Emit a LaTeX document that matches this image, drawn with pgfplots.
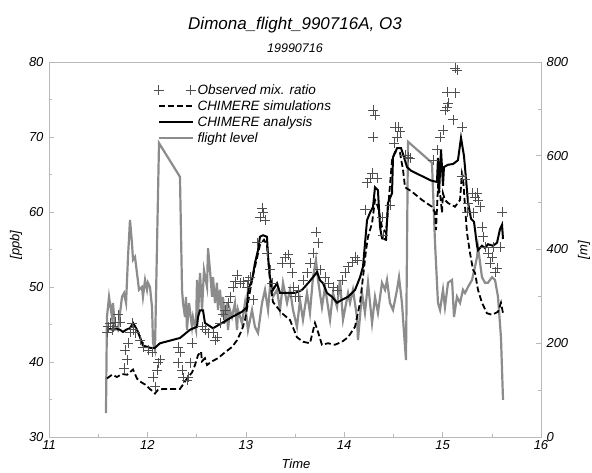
\documentclass[border=0pt]{standalone}
\usepackage{pgfplots}
\pgfplotsset{compat=1.18}
\usepackage{fontspec}
\setmainfont{Liberation Sans}
\definecolor{axgray}{RGB}{185,185,185}
\definecolor{flgray}{RGB}{140,140,140}
\definecolor{obsgray}{RGB}{80,80,80}
\pgfplotsset{
  linelegend/.style={legend image code/.code={\draw[#1] (0pt,0pt) -- (34pt,0pt);}},
  pluslegend/.style={legend image code/.code={\draw[#1] plot[only marks] coordinates {(0pt,0pt) (32pt,0pt)};}},
}
\begin{document}
\begin{tikzpicture}
\useasboundingbox (-49pt,-35pt) rectangle (543pt,437pt);
\pgfplotsset{
  every axis/.append style={
    scale only axis, width=492pt, height=375pt,
    xmin=11, xmax=16,
    tick align=inside,
    major tick length=5pt, minor tick length=3pt,
    every tick/.style={axgray, line width=0.6pt},
    axis line style={axgray, line width=0.8pt},
    ticklabel style={font=\fontsize{13}{15}\selectfont\itshape},
    /pgf/number format/assume math mode=true,
  }
}
% flight level (right axis)
\begin{axis}[
  axis y line*=right, axis x line=none,
  ymin=0, ymax=800, ytick={0,200,...,800}, minor ytick={100,300,500,700},
  yticklabel style={xshift=2pt},
]
\addplot[flgray, line width=2.2pt] table {
t m
11.579 51
11.589 256
11.610 299
11.640 256
11.650 286
11.671 235
11.701 228
11.742 299
11.762 307
11.783 286
11.803 384
11.823 463
11.843 414
11.854 378
11.874 384
11.894 350
11.915 314
11.945 320
11.955 299
11.976 335
11.996 314
12.006 329
12.026 320
12.047 277
12.057 201
12.077 186
12.118 627
12.331 555
12.352 314
12.362 286
12.382 256
12.392 299
12.402 228
12.423 286
12.453 235
12.463 256
12.494 228
12.504 335
12.514 256
12.535 350
12.555 271
12.575 356
12.606 320
12.616 403
12.636 356
12.657 299
12.667 341
12.687 286
12.707 329
12.717 271
12.738 314
12.758 256
12.768 299
12.789 243
12.809 286
12.819 228
12.839 271
12.860 256
12.890 286
12.911 228
12.921 271
12.961 243
12.992 286
13.022 228
13.063 271
13.093 235
13.124 222
13.165 286
13.195 314
13.226 271
13.246 320
13.276 299
13.317 314
13.348 271
13.378 329
13.419 286
13.449 314
13.480 271
13.520 235
13.551 292
13.581 250
13.622 307
13.652 265
13.683 341
13.713 378
13.734 335
13.774 277
13.805 320
13.856 250
13.886 307
13.927 277
13.957 335
13.988 250
14.039 307
14.059 286
14.089 314
14.130 256
14.140 207
14.181 307
14.211 265
14.242 329
14.283 243
14.313 299
14.343 265
14.384 329
14.415 314
14.435 335
14.465 286
14.496 271
14.537 314
14.557 341
14.587 286
14.608 222
14.628 164
14.648 630
14.892 585
14.923 414
14.953 286
14.974 271
15.004 314
15.024 277
15.055 329
15.096 335
15.116 256
15.146 299
15.177 286
15.207 314
15.228 307
15.258 320
15.299 335
15.329 363
15.350 384
15.360 405
15.400 341
15.431 329
15.461 329
15.502 341
15.533 335
15.563 299
15.593 213
15.614 79
};
\end{axis}
% ozone (left axis)
\begin{axis}[
  ymin=30, ymax=80, ytick={30,40,...,80}, minor ytick={35,45,...,75},
  xtick={11,...,16}, minor xtick={11.5,12.5,...,15.5},
  xtick pos=bottom, ytick pos=left,
  yticklabel style={xshift=-2pt},
  legend cell align=left,
  legend style={draw=none, fill=none, at={(axis cs:12.06,77.3)}, anchor=north west,
    font=\fontsize{13.5}{15}\selectfont\itshape, inner sep=0pt, row sep=0.8pt,
    /tikz/every even column/.append style={column sep=4pt}},
  linelegend,
]
\addplot[only marks, mark=+, mark size=5pt, obsgray, line width=0.55pt, pluslegend] table {
t v
11.589 44.0
11.600 44.7
11.620 45.2
11.640 44.3
11.650 44.7
11.671 45.3
11.701 46.3
11.722 45.3
11.772 41.6
11.793 40.3
11.762 39.2
11.803 42.5
11.823 44.0
11.843 45.2
11.854 44.3
11.874 43.9
11.925 42.9
11.955 42.0
12.006 41.6
12.047 41.3
12.057 38.0
12.077 36.7
12.098 38.9
12.108 39.9
12.128 40.3
12.311 42.0
12.331 41.3
12.311 39.9
12.352 38.9
12.362 37.9
12.402 37.6
12.413 38.0
12.433 39.9
12.453 42.5
12.555 44.7
12.585 44.3
12.616 43.9
12.667 43.9
12.687 42.9
12.707 43.3
12.738 45.2
12.768 46.3
12.789 46.9
12.819 47.9
12.839 48.7
12.870 50.0
12.890 50.7
12.911 51.6
12.941 50.5
12.972 50.7
13.012 50.0
13.022 50.9
13.043 51.3
13.073 48.3
13.165 60.5
13.175 59.9
13.195 58.9
13.144 59.3
13.114 55.9
13.215 54.5
13.246 52.3
13.266 50.5
13.368 53.2
13.398 54.0
13.429 54.3
13.449 53.2
13.470 51.9
13.480 50.0
13.500 48.7
13.530 48.7
13.530 49.6
13.581 50.9
13.622 51.9
13.652 53.2
13.683 54.5
13.713 57.3
13.734 55.9
13.754 52.3
13.805 51.3
13.835 50.5
13.886 50.0
13.927 49.6
13.978 50.9
14.008 51.9
14.039 52.7
14.079 53.3
14.110 54.0
14.130 53.6
14.211 60.3
14.232 63.9
14.262 64.5
14.283 65.2
14.293 70.0
14.293 73.6
14.313 72.9
14.333 64.5
14.384 59.3
14.394 56.9
14.465 60.9
14.506 69.2
14.516 71.3
14.537 70.0
14.547 71.3
14.567 70.7
14.618 67.6
14.648 67.3
14.669 67.2
14.902 66.9
14.943 68.3
14.974 70.0
15.004 70.9
15.024 73.6
15.045 74.0
15.055 74.5
15.045 76.0
15.126 75.9
15.106 72.3
15.126 79.2
15.146 78.9
15.197 71.3
15.197 64.7
15.228 64.3
15.248 60.0
15.258 61.2
15.299 62.5
15.309 59.9
15.329 62.0
15.350 62.5
15.360 61.6
15.380 60.7
15.400 58.0
15.411 56.7
15.431 55.3
15.461 54.5
15.482 53.2
15.502 54.0
15.512 55.3
15.533 52.0
15.553 52.5
15.583 55.3
15.604 60.0
};
\addlegendentry{Observed mix. ratio}
\addplot[black, line width=1.8pt, dash pattern=on 6pt off 3pt] table {
t v
11.589 37.8
11.640 38.3
11.691 38.0
11.742 38.4
11.793 38.3
11.854 39.0
11.894 37.8
11.925 37.4
11.976 37.0
12.026 36.4
12.077 35.8
12.108 36.3
12.159 36.4
12.331 36.4
12.362 37.0
12.402 37.8
12.453 38.6
12.484 39.6
12.514 40.9
12.545 41.4
12.555 40.1
12.585 40.5
12.606 39.6
12.657 40.1
12.717 40.5
12.789 41.3
12.860 42.0
12.911 42.9
12.961 44.3
12.992 45.6
13.022 47.9
13.063 50.9
13.104 53.3
13.144 55.6
13.185 56.3
13.215 55.6
13.246 50.9
13.276 48.0
13.368 46.5
13.449 45.6
13.520 43.3
13.581 42.7
13.652 42.5
13.703 45.2
13.734 44.0
13.774 42.3
13.835 42.5
13.906 42.3
13.978 42.7
14.039 43.3
14.110 44.7
14.161 47.9
14.191 51.3
14.222 54.9
14.242 56.7
14.283 58.5
14.313 61.6
14.343 60.7
14.384 58.0
14.425 57.2
14.445 60.3
14.486 66.9
14.516 68.0
14.567 67.9
14.598 65.6
14.618 63.3
14.689 62.7
14.791 61.6
14.892 60.7
14.923 59.9
14.933 57.6
14.953 63.3
14.974 62.5
14.994 59.9
15.004 62.5
15.024 61.6
15.055 61.2
15.126 60.7
15.177 61.6
15.197 65.2
15.207 64.7
15.228 60.7
15.248 57.2
15.279 54.5
15.309 52.3
15.329 51.9
15.360 49.6
15.400 47.9
15.451 46.5
15.502 46.3
15.533 46.5
15.563 46.7
15.593 47.9
15.614 46.5
};
\addlegendentry{CHIMERE simulations}
\addplot[black, line width=2pt] table {
t v
11.589 44.3
11.620 44.4
11.650 44.3
11.691 44.4
11.722 44.3
11.752 44.0
11.783 44.3
11.823 44.5
11.854 45.2
11.894 44.3
11.925 43.3
11.955 42.2
12.026 41.9
12.077 41.9
12.128 42.5
12.331 43.2
12.433 44.3
12.504 44.7
12.514 46.0
12.535 46.9
12.565 46.9
12.585 45.2
12.667 44.5
12.758 45.2
12.860 46.0
12.961 46.7
13.012 47.3
13.022 49.6
13.063 50.9
13.093 53.2
13.124 54.9
13.144 56.7
13.175 56.9
13.215 56.7
13.226 54.0
13.246 51.3
13.276 49.6
13.317 50.5
13.348 49.2
13.500 49.2
13.571 49.6
13.632 50.5
13.683 51.3
13.724 52.0
13.754 50.9
13.785 50.5
13.825 49.2
13.876 48.7
13.927 47.9
13.978 48.3
14.039 48.7
14.110 49.6
14.161 51.3
14.191 52.7
14.232 58.9
14.262 59.9
14.293 60.7
14.313 63.3
14.343 62.9
14.364 58.0
14.384 56.5
14.425 56.3
14.445 61.2
14.486 62.5
14.496 67.3
14.537 68.5
14.578 68.5
14.608 67.3
14.638 66.0
14.679 65.5
14.882 64.2
14.943 64.0
14.953 67.2
14.964 62.5
14.984 68.3
15.004 63.5
15.014 66.0
15.055 66.3
15.106 66.4
15.156 66.9
15.187 69.9
15.217 67.5
15.238 64.4
15.258 61.3
15.289 59.1
15.319 58.7
15.350 55.5
15.360 54.9
15.400 55.5
15.431 55.2
15.461 55.7
15.512 55.5
15.553 55.9
15.583 57.7
15.604 58.3
15.614 56.4
};
\addlegendentry{CHIMERE analysis}
\addlegendimage{flgray, line width=2.2pt}
\addlegendentry{flight level}
\end{axis}
\node[font=\fontsize{17}{20}\selectfont\itshape] at (246pt,412pt) {Dimona\_flight\_990716A, O3};
\node[font=\fontsize{12.5}{14}\selectfont\itshape] at (246pt,389pt) {19990716};
\node[font=\fontsize{13}{15}\selectfont\itshape] at (247pt,-27pt) {Time};
\node[font=\fontsize{13}{15}\selectfont\itshape, rotate=90] at (-33pt,192pt) {[ppb]};
\node[font=\fontsize{13}{15}\selectfont\itshape, rotate=90] at (535pt,187pt) {[m]};
\end{tikzpicture}
\end{document}
